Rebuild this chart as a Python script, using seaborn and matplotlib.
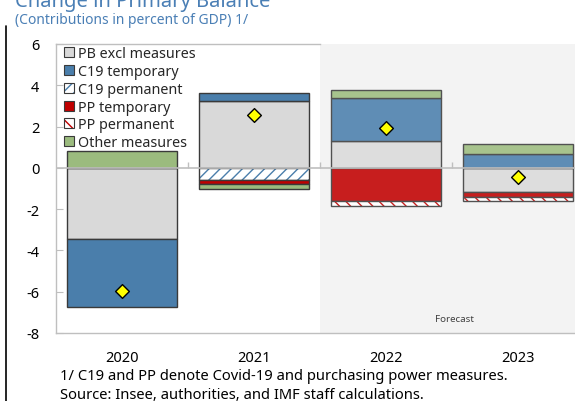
import numpy as np
import pandas as pd
import matplotlib
matplotlib.use("Agg")
import matplotlib.pyplot as plt
from matplotlib.patches import Patch
from matplotlib.lines import Line2D
from matplotlib.colors import to_rgba
import seaborn as sns

# ---------------- data ----------------
years = ["2020", "2021", "2022", "2023"]
pb_excl = [-3.44, 3.22, 1.32, -1.18]
c19_temp = [-3.31, 0.40, 2.05, 0.66]
c19_perm = [0.0, -0.60, 0.0, 0.0]
pp_temp = [0.0, -0.20, -1.59, -0.23]
pp_perm = [0.0, 0.0, -0.24, -0.21]
other = [0.80, -0.22, 0.40, 0.50]
total = [-5.97, 2.58, 1.92, -0.46]

series_names = ["PB excl measures", "C19 temporary", "C19 permanent",
                "PP temporary", "PP permanent", "Other measures"]
series_values = [pb_excl, c19_temp, c19_perm, pp_temp, pp_perm, other]

# ---------------- style ----------------
sns.set_theme(style="white")
plt.rcParams["font.family"] = ["Noto Sans", "DejaVu Sans"]
plt.rcParams["hatch.linewidth"] = 1.0

BLUE = "#4a7eab"
RED = "#c00000"
styles = {
    "PB excl measures": dict(face="#d9d9d9"),
    "C19 temporary": dict(face=BLUE),
    "C19 permanent": dict(face="white", hatch="///", hc=BLUE),
    "PP temporary": dict(face=RED),
    "PP permanent": dict(face="white", hatch="\\\\\\", hc=RED),
    "Other measures": dict(face="#9bbb7e"),
}
EDGE = "#3a3a3a"
AXC = "#bfbfbf"

fig = plt.figure(figsize=(5.75, 4.02), dpi=100)
ax = fig.add_axes([56 / 575, 68 / 402, 528 / 575, 289 / 402])

# forecast shading (behind)
ax.axvspan(1.5, 3.5, color="#f2f2f2", zorder=0, lw=0)

pos_base = np.zeros(len(years))
neg_base = np.zeros(len(years))
for name, vals in zip(series_names, series_values):
    v = np.array(vals, dtype=float)
    bottoms = np.where(v >= 0, pos_base, neg_base)
    mask = v != 0
    df = pd.DataFrame({"year": np.array(years)[mask], "value": v[mask]})
    st = styles[name]
    n_before = len(ax.patches)
    sns.barplot(data=df, x="year", y="value", order=years, color=st["face"],
                saturation=1, width=0.83, bottom=bottoms[mask],
                edgecolor=EDGE, linewidth=1.0, hatch=st.get("hatch"),
                errorbar=None, ax=ax, zorder=2)
    if "hc" in st:
        for p in ax.patches[n_before:]:
            p._hatch_color = to_rgba(st["hc"])
    pos_base = pos_base + np.where(v > 0, v, 0)
    neg_base = neg_base + np.where(v < 0, v, 0)

# light overlay on forecast bars
ax.axvspan(1.5, 3.5, color="white", alpha=0.12, zorder=2.5, lw=0)

# zero line and category separators
ax.axhline(0, color=AXC, lw=1.2, zorder=4)
ax.vlines([0.5, 1.5, 2.5], 0, 0.3, color=AXC, lw=1, zorder=4)

# totals (diamonds)
sns.stripplot(x=years, y=total, order=years, jitter=False, marker="D", size=7,
              color="#ffff00", edgecolor="black", linewidth=1, ax=ax, zorder=5)

ax.text(2.52, -7.32, "Forecast", ha="center", va="center", fontsize=7, color="#404040")

ax.set_xlim(-0.5, 3.5)
ax.set_ylim(-8, 6)
ax.set_yticks(range(-8, 7, 2))
ax.set_yticklabels([str(t) for t in range(-8, 7, 2)])
ax.set_xticks(range(len(years)))
ax.set_xticklabels(years)
ax.set_xlabel("")
ax.set_ylabel("")
ax.tick_params(axis="x", length=0, pad=12, labelsize=10.5, colors="black")
ax.tick_params(axis="y", direction="in", length=5, width=0.8, color=AXC, pad=12,
               labelsize=10.5, labelcolor="black")
ax.tick_params(axis="y", left=True)
for s in ["left", "bottom", "top"]:
    ax.spines[s].set_color(AXC)
    ax.spines[s].set_linewidth(1)
    ax.spines[s].set_visible(True)
ax.spines["top"].set_bounds(-0.5, 1.5)
ax.spines["right"].set_visible(False)

# legend
handles = []
for name in series_names:
    st = styles[name]
    h = Patch(facecolor=st["face"], edgecolor=EDGE, hatch=st.get("hatch"), linewidth=0.8)
    if "hc" in st:
        h._hatch_color = to_rgba(st["hc"])
    handles.append(h)
fig.legend(handles, series_names, loc="upper left",
           bbox_to_anchor=(64 / 575, 1 - 47 / 402), frameon=False, fontsize=10.3,
           handlelength=0.7, handleheight=0.7, handletextpad=0.3,
           labelspacing=0.2, borderpad=0, borderaxespad=0)

# titles and notes
TC = "#4a7fb5"
fig.text(15 / 575, 1 - 7 / 402, "Change in Primary Balance", fontsize=14.5,
         fontweight="bold", color=TC, va="baseline", ha="left")
fig.text(15 / 575, 1 - 24 / 402, "(Contributions in percent of GDP) 1/", fontsize=10,
         color=TC, va="baseline", ha="left")
fig.text(60 / 575, 1 - 377 / 402,
         "1/ C19 and PP denote Covid-19 and purchasing power measures.",
         fontsize=10.6, va="center", ha="left", color="black")
fig.text(60 / 575, 1 - 396 / 402,
         "Source: Insee, authorities, and IMF staff calculations.",
         fontsize=10.6, va="center", ha="left", color="black")

fig.add_artist(Line2D([5.5 / 575, 5.5 / 575], [0, 1 - 27 / 402], color="black",
                      lw=1.2, transform=fig.transFigure))

fig.savefig("out.png", dpi=100)
